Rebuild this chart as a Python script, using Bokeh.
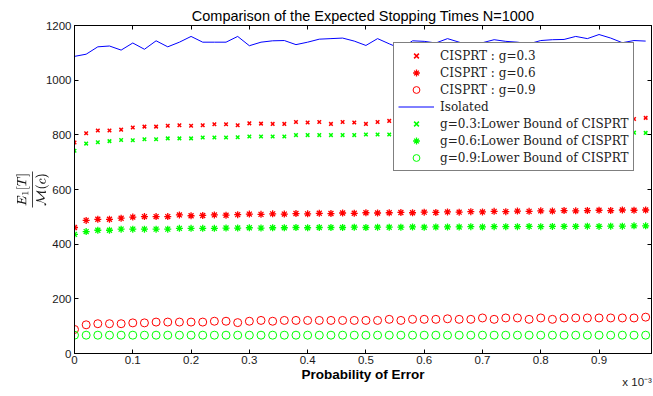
from bokeh.plotting import figure
from bokeh.models import Range1d, LinearAxis, FixedTicker, Legend, LegendItem, Label
from bokeh.embed import file_html
from bokeh.resources import INLINE

# ---------------- data (x in units of 1e-3) ----------------
prob_error = [0.00, 0.02, 0.04, 0.06, 0.08, 0.10, 0.12, 0.14, 0.16, 0.18,
              0.20, 0.22, 0.24, 0.26, 0.28, 0.30, 0.32, 0.34, 0.36, 0.38,
              0.40, 0.42, 0.44, 0.46, 0.48, 0.50, 0.52, 0.54, 0.56, 0.58,
              0.60, 0.62, 0.64, 0.66, 0.68, 0.70, 0.72, 0.74, 0.76, 0.78,
              0.80, 0.82, 0.84, 0.86, 0.88, 0.90, 0.92, 0.94, 0.96, 0.98]

isolated = [1087, 1095, 1122, 1125, 1110, 1136, 1113, 1144, 1122, 1139,
            1160, 1139, 1139, 1139, 1160, 1126, 1139, 1144, 1145, 1130,
            1139, 1150, 1152, 1154, 1143, 1127, 1152, 1133, 1115, 1144,
            1142, 1136, 1152, 1139, 1127, 1137, 1148, 1142, 1139, 1133,
            1145, 1148, 1149, 1160, 1152, 1167, 1154, 1137, 1145, 1143]

cisprt_g03 = [772, 806, 816, 816, 819, 827, 830, 830, 833, 835,
              833, 835, 839, 839, 835, 842, 841, 840, 840, 847,
              845, 847, 840, 847, 845, 840, 847, 851, 850, 852,
              851, 853, 852, 854, 853, 852, 855, 854, 856, 855,
              857, 856, 855, 857, 858, 857, 859, 858, 858, 862]

cisprt_g06 = [461, 487, 491, 491, 495, 499, 501, 501, 501, 507,
              504, 505, 507, 506, 508, 510, 509, 511, 510, 512,
              511, 513, 512, 514, 513, 515, 514, 515, 516, 515,
              517, 516, 518, 517, 519, 518, 520, 519, 521, 520,
              522, 521, 523, 522, 523, 524, 523, 525, 524, 525]

cisprt_g09 = [88, 105, 109, 109, 109, 112, 112, 115, 115, 115,
              115, 115, 118, 118, 113, 118, 121, 118, 121, 121,
              121, 121, 121, 121, 121, 121, 121, 125, 121, 125,
              125, 125, 127, 125, 125, 130, 125, 130, 130, 125,
              130, 125, 130, 130, 130, 130, 130, 130, 130, 133]

lower_g03 = [742, 768, 773, 777, 781, 780, 784, 784, 787, 787,
             787, 790, 790, 790, 791, 794, 794, 794, 794, 799,
             799, 799, 799, 799, 799, 801, 801, 801, 801, 802,
             802, 803, 802, 803, 804, 803, 804, 804, 805, 804,
             805, 805, 806, 805, 806, 806, 807, 806, 808, 807]

lower_g06 = [436, 446, 451, 451, 455, 455, 455, 455, 455, 458,
             458, 458, 458, 459, 459, 460, 459, 460, 460, 461,
             460, 461, 461, 461, 462, 461, 462, 462, 462, 463,
             462, 463, 463, 463, 464, 463, 464, 464, 464, 465,
             464, 465, 465, 465, 466, 465, 466, 466, 467, 467]

lower_g09 = [67, 67, 67, 67, 67, 67, 67, 67, 67, 67,
             67, 67, 67, 67, 67, 67, 67, 67, 67, 67,
             67, 67, 67, 67, 67, 67, 67, 67, 67, 67,
             67, 67, 67, 67, 67, 67, 67, 67, 67, 67,
             67, 67, 67, 67, 67, 67, 67, 67, 67, 67]

x_ticks = [0.0, 0.1, 0.2, 0.3, 0.4, 0.5, 0.6, 0.7, 0.8, 0.9]
x_tick_labels = ["0", "0.1", "0.2", "0.3", "0.4", "0.5", "0.6", "0.7", "0.8", "0.9"]
y_ticks = [0, 200, 400, 600, 800, 1000, 1200]

title_text = "Comparison of the Expected Stopping Times N=1000"
x_label = "Probability of Error"
y_label = r"$$\frac{E_1[T]}{\mathcal{M}(c)}$$"
exponent_text = "x 10⁻³"
legend_labels = ["CISPRT : g=0.3", "CISPRT : g=0.6", "CISPRT : g=0.9", "Isolated",
                 "g=0.3:Lower Bound of CISPRT", "g=0.6:Lower Bound of CISPRT",
                 "g=0.9:Lower Bound of CISPRT"]

SANS = "Liberation Sans"

p = figure(width=653, height=396, output_backend="svg", toolbar_location=None,
           x_range=Range1d(0, 0.99), y_range=Range1d(0, 1200),
           min_border_left=74, min_border_right=2, min_border_top=25, min_border_bottom=41)

p.title.text = title_text
p.title.align = "center"
p.title.text_font = SANS
p.title.text_font_size = "14.5px"
p.title.text_font_style = "normal"
p.title.text_color = "black"
p.title.standoff = 3

p.xgrid.visible = False
p.ygrid.visible = False
p.outline_line_color = "black"
p.outline_line_alpha = 1.0
p.background_fill_color = "white"
p.border_fill_color = "white"

p.xaxis.ticker = FixedTicker(ticks=x_ticks)
p.xaxis.major_label_overrides = {t: l for t, l in zip(x_ticks, x_tick_labels)}
p.yaxis.ticker = FixedTicker(ticks=y_ticks)

for ax in (p.xaxis[0], p.yaxis[0]):
    ax.axis_line_color = "black"
    ax.major_tick_in = 4
    ax.major_tick_out = 0
    ax.minor_tick_line_color = None
    ax.major_tick_line_color = "black"
    ax.major_label_text_font = SANS
    ax.major_label_text_font_size = "11.5px"
    ax.major_label_text_color = "#1a1a1a"
    ax.major_label_text_line_height = 1.0

p.xaxis.major_label_standoff = 2
p.xaxis.axis_label = x_label
p.xaxis.axis_label_text_font = SANS
p.xaxis.axis_label_text_font_size = "13.5px"
p.xaxis.axis_label_text_font_style = "bold"
p.xaxis.axis_label_text_color = "black"
p.xaxis.axis_label_standoff = 0
p.xaxis.axis_label_text_line_height = 1.0

p.yaxis.major_label_standoff = 3
p.yaxis.axis_label = y_label
p.yaxis.axis_label_text_font_size = "10px"
p.yaxis.axis_label_text_color = "#1a1a1a"
p.yaxis.axis_label_standoff = -6

# mirrored tick axes (top / right), no labels
top_ax = LinearAxis(ticker=FixedTicker(ticks=x_ticks),
                    major_label_overrides={t: "" for t in x_ticks},
                    major_label_standoff=0, major_tick_in=4, major_tick_out=0,
                    minor_tick_line_color=None, axis_line_color="black")
right_ax = LinearAxis(ticker=FixedTicker(ticks=y_ticks),
                      major_label_overrides={t: "" for t in y_ticks},
                      major_label_standoff=0, major_tick_in=4, major_tick_out=0,
                      minor_tick_line_color=None, axis_line_color="black")
p.add_layout(top_ax, "above")
p.add_layout(right_ax, "right")

RED, GREEN, BLUE = "#ff0000", "#00ff00", "#0000ff"

r1 = p.scatter(prob_error, cisprt_g03, marker="x", size=5, line_color=RED, line_width=1.5)
r2 = p.scatter(prob_error, cisprt_g06, marker="asterisk", size=7, line_color=RED, line_width=1.3)
r3 = p.scatter(prob_error, cisprt_g09, marker="circle", size=8, line_color=RED, fill_color=None, line_width=1)
r4 = p.line(prob_error, isolated, line_color=BLUE, line_width=1)
r5 = p.scatter(prob_error, lower_g03, marker="x", size=5, line_color=GREEN, line_width=1.5)
r6 = p.scatter(prob_error, lower_g06, marker="asterisk", size=7, line_color=GREEN, line_width=1.3)
r7 = p.scatter(prob_error, lower_g09, marker="circle", size=8, line_color=GREEN, fill_color=None, line_width=1)

renderers = [r1, r2, r3, r4, r5, r6, r7]
legend = Legend(items=[LegendItem(label=l, renderers=[r]) for l, r in zip(legend_labels, renderers)],
                location=(319, 182))
legend.label_text_font = "DejaVu Serif"
legend.label_text_font_size = "12px"
legend.label_text_color = "#222222"
legend.label_height = 17
legend.glyph_height = 17
legend.glyph_width = 36
legend.label_standoff = 6
legend.spacing = 0
legend.padding = 4
legend.margin = 0
legend.border_line_color = "black"
legend.border_line_width = 1
legend.background_fill_color = "white"
legend.background_fill_alpha = 1.0
p.add_layout(legend)

# exponent note, placed in the bottom side panel so it is not clipped to the frame
exp_label = Label(x=0.94, y=15, y_units="screen", text=exponent_text, text_font=SANS,
                  text_font_size="11.5px", text_baseline="middle", text_align="left",
                  text_line_height=1.0, text_color="#1a1a1a")
p.add_layout(exp_label, "below")

open("out.html", "w").write(file_html(p, INLINE))
